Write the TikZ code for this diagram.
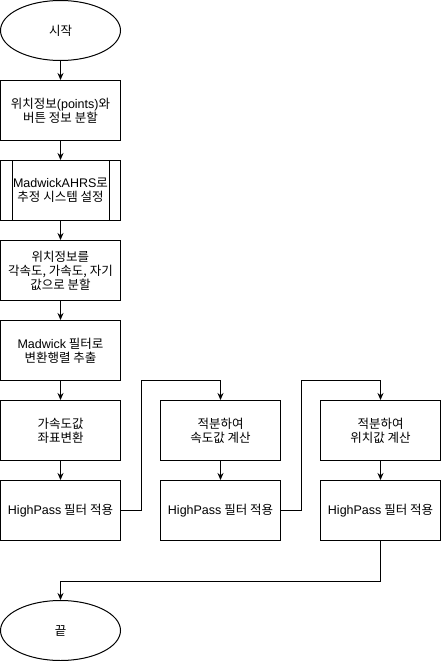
\documentclass[tikz,border=0pt]{standalone}
\usepackage{fontspec}
\setmainfont{Noto Sans CJK KR}
\newfontfamily\lat{Liberation Sans}
\usetikzlibrary{positioning, arrows.meta, shapes.geometric}

\begin{document}
\begin{tikzpicture}[x=1pt, y=1pt, node distance=80pt, on grid, line width=1pt,
  >={Stealth[length=7pt, width=6pt]},
  box/.style={rectangle, draw, minimum width=120pt, minimum height=60pt, inner sep=1pt,
    align=center, font=\fontsize{12.5}{14}\selectfont},
  term/.style={ellipse, draw, minimum width=120pt, minimum height=60pt, inner sep=0pt,
    font=\fontsize{12.5}{14}\selectfont}]

  \useasboundingbox (0,0) rectangle (441,-661);

  \node[term] (Start) at (60.5,-30.5) {시작};
  \node[box] (Split) [below=of Start] {위치정보{\lat(points)}와\\버튼 정보 분할};
  \node[box] (Ahrs) [below=of Split] {{\lat MadwickAHRS}로\\추정 시스템 설정};
  \node[box] (Sensor) [below=of Ahrs] {위치정보를\\각속도, 가속도, 자기\\값으로 분할};
  \node[box] (Filter) [below=of Sensor] {{\lat Madwick} 필터로\\변환행렬 추출};
  \node[box] (Accel) [below=of Filter] {가속도값\\좌표변환};
  \node[box] (HpA) [below=of Accel] {{\lat HighPass} 필터 적용};
  \node[box] (Vel) [right=160pt of Accel] {적분하여\\속도값 계산};
  \node[box] (HpV) [below=of Vel] {{\lat HighPass} 필터 적용};
  \node[box] (Pos) [right=160pt of Vel] {적분하여\\위치값 계산};
  \node[box] (HpP) [below=of Pos] {{\lat HighPass} 필터 적용};
  \node[term] (End) [below=120pt of HpA] {끝};

  % predefined process bars
  \draw ([xshift=12pt]Ahrs.north west) -- ([xshift=12pt]Ahrs.south west)
        ([xshift=-12pt]Ahrs.north east) -- ([xshift=-12pt]Ahrs.south east);

  \path[->]
    (Start) edge (Split)
    (Split) edge (Ahrs)
    (Ahrs) edge (Sensor)
    (Sensor) edge (Filter)
    (Filter) edge (Accel)
    (Accel) edge (HpA)
    (Vel) edge (HpV)
    (Pos) edge (HpP);

  \draw[->] (HpA.east) -- ++(20pt,0) |- ([yshift=20pt]Vel.north) -- (Vel.north);
  \draw[->] (HpV.east) -- ++(20pt,0) |- ([yshift=20pt]Pos.north) -- (Pos.north);
  \draw[->] (HpP.south) -- ++(0,-40pt) -| (End.north);

\end{tikzpicture}
\end{document}
